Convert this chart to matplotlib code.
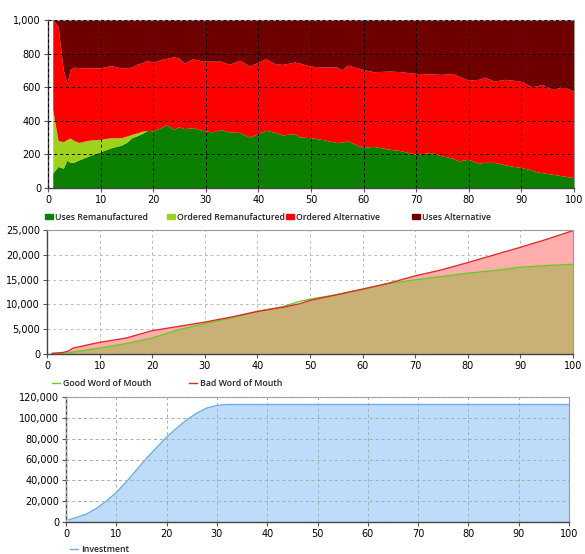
import numpy as np
import matplotlib
matplotlib.use("Agg")
import matplotlib.pyplot as plt
from matplotlib.ticker import StrMethodFormatter
from matplotlib.patches import Rectangle
from matplotlib.lines import Line2D

# --- top chart: stacked shares ---
t_top = [1, 2, 3, 3.7, 4.3, 5, 6, 7, 8, 10, 12, 14, 15, 16, 17, 18, 19, 20, 21, 22,
         22.5, 24, 25, 26, 27.6, 29.5, 31.3, 33, 34.6, 36.5, 38.4, 41.5, 43.4, 44.7,
         47, 48, 50, 52, 55, 56, 57, 60, 62, 65, 67, 70, 73, 75, 77, 78, 80, 82, 83,
         85, 87, 88, 90, 92, 93, 94, 96, 98, 100]
uses_reman = [87, 125, 115, 163, 150, 150, 165, 177, 190, 212, 236, 252, 268, 296, 308,
              322, 340, 337, 350, 362, 376, 347, 362, 350, 356, 340, 331, 345, 330, 328,
              300, 341, 327, 313, 321, 300, 297, 287, 267, 270, 277, 238, 245, 228, 220,
              198, 208, 188, 175, 158, 168, 143, 150, 149, 135, 129, 119, 105, 93, 88,
              79, 69, 59]
ordered_reman = [377, 155, 157, 123, 144, 130, 103, 99, 92, 75, 60, 44, 38, 20, 17, 13,
                 0, 0, 0, 0, 0, 0, 0, 0, 0, 0, 0, 0, 0, 0, 0, 0, 0, 0, 0, 0, 0, 0, 0,
                 0, 0, 0, 0, 0, 0, 0, 0, 0, 0, 0, 0, 0, 0, 0, 0, 0, 0, 0, 0, 0, 0, 0, 0]
ordered_alt = [536, 680, 428, 334, 408, 436, 446, 436, 431, 425, 430, 416, 408, 400, 410,
               407, 418, 408, 405, 404, 392, 431, 408, 390, 410, 412, 421, 407, 403, 430,
               423, 425, 408, 420, 426, 440, 426, 430, 450, 429, 452, 465, 444, 465, 470,
               481, 468, 485, 504, 507, 472, 501, 507, 485, 509, 511, 515, 495, 512, 526,
               505, 531, 515]
uses_alt = [0, 40, 300, 380, 298, 284, 286, 288, 287, 288, 274, 288, 286, 284, 265, 258,
            242, 255, 245, 234, 232, 222, 230, 260, 234, 248, 248, 248, 267, 242, 277,
            234, 265, 267, 253, 260, 277, 283, 283, 301, 271, 297, 311, 307, 310, 321,
            324, 327, 321, 335, 360, 356, 343, 366, 356, 360, 366, 400, 395, 386, 416,
            400, 426]
top_labels = ["Uses Remanufactured", "Ordered Remanufactured", "Ordered Alternative", "Uses Alternative"]
top_colors = ["#0b7f00", "#9fd21a", "#ff0000", "#6e0000"]

# --- middle chart: word of mouth ---
t_wom = [1, 3, 4, 5, 10, 15, 20, 25, 30, 35, 40, 45, 48, 50, 55, 60, 65, 70, 75, 80, 85, 90, 95, 100]
good_wom = [0, 100, 200, 400, 1200, 2080, 3220, 4900, 6100, 7240, 8580, 9580, 10600, 11060,
            11930, 13070, 14200, 14950, 15620, 16290, 16820, 17490, 17830, 18100]
bad_wom = [150, 300, 550, 1200, 2350, 3200, 4700, 5560, 6430, 7440, 8580, 9450, 10120, 10800,
           11930, 13070, 14280, 15750, 16950, 18430, 19970, 21510, 23120, 24870]

# --- bottom chart: investment ---
t_inv = [0.5, 4, 6, 8, 10, 12, 14, 16, 18, 20, 22, 24, 26, 28, 30, 32, 100]
investment = [2000, 7400, 12900, 19950, 28300, 38600, 49900, 61100, 71400, 81400, 90100,
              98100, 104500, 109400, 111900, 112800, 112800]

W, H = 585, 554
fig = plt.figure(figsize=(W / 100, H / 100), dpi=100)
plt.rcParams['font.family'] = 'DejaVu Sans'


def axes_px(x0, y0, x1, y1):
    return fig.add_axes([x0 / W, 1 - y1 / H, (x1 - x0) / W, (y1 - y0) / H])


def style(ax, grid_color, grid_on_top=False):
    ax.set_xlim(0, 100)
    ax.set_xticks(range(0, 101, 10))
    ax.tick_params(labelsize=7, length=3, width=0.8, color="#555555", pad=2)
    ax.yaxis.set_major_formatter(StrMethodFormatter('{x:,.0f}'))
    ax.grid(True, linestyle=(0, (3, 3)), color=grid_color, linewidth=0.7)
    ax.set_axisbelow(not grid_on_top)
    for s in ["left", "bottom"]:
        ax.spines[s].set_color("#444444")
        ax.spines[s].set_linewidth(1.0)
    for s in ["top", "right"]:
        ax.spines[s].set_color("#999999")
        ax.spines[s].set_linewidth(0.8)


# top
ax1 = axes_px(48, 20, 574, 188)
ax1.stackplot(t_top, uses_reman, ordered_reman, ordered_alt, uses_alt,
              colors=top_colors, linewidth=0)
ax1.set_ylim(0, 1000)
ax1.set_yticks(range(0, 1001, 200))
style(ax1, (0, 0, 0, 0.13), grid_on_top=True)

# middle
ax2 = axes_px(47, 230, 573, 354)
ax2.fill_between(t_wom, 0, bad_wom, color="#ffadad", linewidth=0)
ax2.fill_between(t_wom, 0, np.minimum(good_wom, bad_wom), color="#c9b077", linewidth=0)
ax2.plot(t_wom, good_wom, color="#66cc22", linewidth=1)
ax2.plot(t_wom, bad_wom, color="#e02a2a", linewidth=1)
ax2.set_ylim(0, 25000)
ax2.set_yticks(range(0, 25001, 5000))
style(ax2, "#bbbbbb")

# bottom
ax3 = axes_px(66, 397, 569, 522)
ax3.fill_between(t_inv, 0, investment, color="#bcdcfa", linewidth=0)
ax3.plot(t_inv, investment, color="#6aaee8", linewidth=1)
ax3.set_ylim(0, 120000)
ax3.set_yticks(range(0, 120001, 20000))
style(ax3, "#aaaaaa", grid_on_top=True)


# legends drawn in pixel coords
def fx(x):
    return x / W


def fy(y):
    return 1 - y / H


lg_font = dict(fontsize=6.3, fontweight="semibold", family="Open Sans", va="center", color="#222222")

for x, lab, col in zip([45, 167, 286, 412], top_labels, top_colors):
    fig.patches.append(Rectangle((fx(x), fy(219)), 8 / W, 5 / H, color=col,
                                 transform=fig.transFigure, figure=fig))
    fig.text(fx(x + 10), fy(217), lab, **lg_font)

for x, lab, col in [(52, "Good Word of Mouth", "#66cc22"), (189, "Bad Word of Mouth", "#e02a2a")]:
    fig.lines.append(Line2D([fx(x), fx(x + 8)], [fy(383), fy(383)], color=col, linewidth=1,
                            transform=fig.transFigure, figure=fig))
    fig.text(fx(x + 11), fy(383), lab, **lg_font)

fig.lines.append(Line2D([fx(70), fx(78)], [fy(549), fy(549)], color="#6aaee8", linewidth=1,
                        transform=fig.transFigure, figure=fig))
fig.text(fx(81), fy(549), "Investment", **lg_font)

fig.savefig("out.png", dpi=100)
